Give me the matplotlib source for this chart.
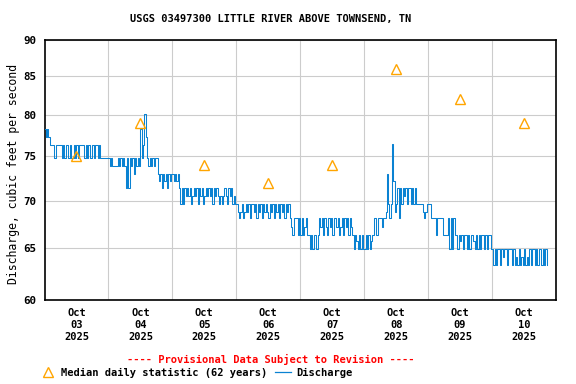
import numpy as np
import matplotlib
matplotlib.use("Agg")
import matplotlib.pyplot as plt
import matplotlib.dates as mdates
from matplotlib.ticker import NullLocator, NullFormatter, FixedLocator
from matplotlib.lines import Line2D

plt.rcParams['font.family'] = ['DejaVu Sans Mono']
plt.rcParams['font.weight'] = 'bold'

# ---------------- data (30-minute discharge, cfs) ----------------
day1 = [78.3, 77.3, 78.3, 77.3, 76.4, 76.4, 76.4, 74.8, 74.8, 76.4, 76.4, 76.4, 76.4,
        74.8, 76.4, 74.8, 76.4, 76.4, 74.8, 76.4, 74.8, 74.8, 76.4, 74.8, 76.4, 74.8,
        76.4, 76.4, 76.4, 76.4,
        74.8, 76.4, 74.8, 76.4, 74.8, 74.8, 76.4, 74.8, 76.4, 76.4, 74.8, 76.4,
        74.8, 74.8, 74.8, 74.8, 74.8, 74.8]
day2 = [74.8, 73.9, 74.8, 73.9, 73.9, 73.9, 73.9, 74.8, 73.9, 74.8, 73.9, 74.8, 73.9,
        71.4, 74.8, 71.4, 74.8, 73.9, 74.8, 73.0, 74.8, 73.9, 74.8, 73.9,
        78.3, 74.8, 76.4, 80.1, 77.3, 74.8, 73.9, 74.8, 73.9, 74.8, 73.9, 74.8, 74.8,
        73.0, 72.2, 73.0, 71.4, 73.0, 72.2, 73.0, 71.4, 73.0, 72.2, 73.0]
day3 = [73.0, 72.2, 73.0, 72.2, 73.0,
        71.4, 69.6, 71.4, 69.6, 71.4, 70.5, 71.4, 70.5, 71.4, 69.6, 70.5, 71.4, 70.5,
        71.4, 69.6, 71.4, 70.5, 71.4, 69.6, 70.5, 71.4, 70.5, 71.4, 70.5, 71.4, 69.6,
        71.4, 70.5, 71.4, 70.5, 69.6, 70.5, 69.6, 70.5, 71.4, 70.5, 69.6, 71.4, 70.5,
        71.4, 69.6, 70.5, 69.6]
day4 = [69.6, 68.8, 68.1, 68.8, 69.6, 68.1, 68.8,
        69.6, 68.8, 69.6, 68.1, 69.6, 69.6, 68.8, 69.6, 68.1, 69.6, 68.8, 69.6, 68.1,
        69.6, 68.8, 69.6, 68.8, 68.1, 69.6, 68.8, 69.6, 68.1, 69.6, 68.8, 69.6, 68.1,
        69.6, 68.8, 69.6, 68.1, 69.6, 68.8, 69.6,
        68.1, 67.2, 66.4, 68.1, 68.1, 68.1, 66.4, 68.1]
day5 = [66.4, 68.1, 66.4, 67.2, 68.1, 66.4,
        66.4, 64.9, 66.4, 64.9, 66.4, 66.4, 64.9, 66.4,
        68.1, 67.2, 68.1, 66.4, 68.1, 67.2, 66.4, 68.1, 67.2, 68.1, 66.4, 68.1, 68.1,
        67.2, 68.1, 66.4, 67.2, 68.1, 66.4, 68.1, 67.2, 68.1, 66.4, 68.1, 67.2,
        66.4, 64.9, 66.4, 65.7, 64.9, 66.4, 64.9, 66.4, 64.9]
day6 = [64.9, 66.4, 64.9, 66.4, 64.9, 65.7, 66.4,
        68.1, 68.1, 66.4, 68.1, 68.1, 68.1, 67.2, 68.1, 68.1,
        68.8,
        73.0, 69.6, 68.1, 69.6, 76.5, 72.2, 68.8, 69.6, 71.4, 68.1,
        71.4, 69.6, 71.4, 70.5, 71.4, 69.6, 71.4, 71.4, 69.6, 71.4, 69.6, 71.4,
        69.6, 69.6, 69.6, 69.6, 69.6,
        68.8, 68.1, 68.8,
        69.6]
day7 = [69.6, 69.6,
        68.1, 68.1, 68.1, 68.1, 66.4, 68.1, 68.1, 68.1, 68.1,
        66.4, 66.4, 66.4,
        66.4, 68.1, 64.9, 68.1, 64.9, 68.1, 66.4,
        66.4, 64.9, 66.4, 65.7, 66.4, 64.9, 66.4, 66.4, 64.9, 66.4, 64.9, 66.4, 66.4,
        65.7, 64.9, 66.4, 64.9, 66.4, 64.9, 66.4, 66.4, 64.9, 66.4, 64.9, 66.4, 66.4,
        64.9]
day8 = [64.9, 63.3, 64.9, 63.3, 64.9, 64.9, 63.3, 64.9, 64.1, 64.9,
        64.9, 63.3, 64.9, 64.9, 64.9, 63.3, 64.9, 63.3, 64.1, 63.3,
        64.9, 63.3, 64.1, 63.3, 64.9, 63.3, 64.1, 63.3, 64.9, 63.3,
        64.9, 64.9, 63.3, 64.9, 63.3, 64.9, 64.9, 63.3, 64.9, 63.3,
        64.9, 63.3]

median_days = ["2025-10-03", "2025-10-04", "2025-10-05", "2025-10-06",
               "2025-10-07", "2025-10-08", "2025-10-09", "2025-10-10"]
median_vals = [75, 79, 74, 72, 74, 86, 82, 79]

tick_labels = ["Oct\n03\n2025", "Oct\n04\n2025", "Oct\n05\n2025", "Oct\n06\n2025",
               "Oct\n07\n2025", "Oct\n08\n2025", "Oct\n09\n2025", "Oct\n10\n2025"]
y_ticks = [60, 65, 70, 75, 80, 85, 90]

title = "USGS 03497300 LITTLE RIVER ABOVE TOWNSEND, TN"
ylabel = "Discharge, cubic feet per second"
notice = "---- Provisional Data Subject to Revision ----"
legend_labels = ["Median daily statistic (62 years)", "Discharge"]

# ---------------- build series ----------------
discharge = np.array(day1 + day2 + day3 + day4 + day5 + day6 + day7 + day8)
t0 = np.datetime64("2025-10-03T00:00")
times = t0 + np.arange(len(discharge)) * np.timedelta64(30, "m")
median_times = np.array([np.datetime64(d + "T12:00") for d in median_days])

blue = "#0a82d2"
orange = "#FFA500"
grid_c = "#CCCCCC"

fig = plt.figure(figsize=(5.76, 3.84), dpi=100)
ax = fig.add_axes([44.5 / 576, 84.5 / 384, 511.5 / 576, 260 / 384])

ax.step(times, discharge, where="post", color=blue, lw=0.75, zorder=3)
ax.plot(median_times, median_vals, ls="none", marker="^", ms=6.6,
        mfc="none", mec=orange, mew=1.0, zorder=4)

ax.set_yscale("log")
ax.set_ylim(60, 90)
ax.yaxis.set_major_locator(FixedLocator(y_ticks))
ax.set_yticklabels([str(v) for v in y_ticks])
ax.yaxis.set_minor_locator(NullLocator())
ax.yaxis.set_minor_formatter(NullFormatter())

xstart = mdates.date2num(np.datetime64("2025-10-03T00:00"))
xend = mdates.date2num(np.datetime64("2025-10-11T00:00"))
ax.set_xlim(xstart, xend)
ax.set_xticks(mdates.date2num(median_times))
ax.set_xticklabels(tick_labels, linespacing=1.28)
midnights = mdates.date2num(np.array([np.datetime64(d + "T00:00") for d in median_days]))
ax.xaxis.set_minor_locator(FixedLocator(list(midnights[1:])))

ax.tick_params(axis="both", which="both", length=0, labelsize=7.5)
ax.tick_params(axis="y", pad=6, labelsize=7.8)
ax.tick_params(axis="x", pad=6)

ax.set_axisbelow(True)
ax.grid(axis="y", which="major", color=grid_c, lw=0.8)
ax.grid(axis="x", which="minor", color=grid_c, lw=0.8)
ax.grid(axis="x", which="major", visible=False)

for s in ax.spines.values():
    s.set_linewidth(1.2)
    s.set_color("black")

ax.set_ylabel(ylabel, fontsize=8.3, va="center")
ax.yaxis.set_label_coords(-0.0615, 0.483)

fig.text(271 / 576, 1 - 19 / 384, title, ha="center", va="center", fontsize=7.5)
fig.text(271 / 576, 1 - 359 / 384, notice, ha="center", va="center",
         fontsize=7.5, color="#FF0000")

h_med = Line2D([], [], ls="none", marker="^", ms=6.6, mfc="none", mec=orange, mew=1.0)
h_dis = Line2D([], [], color=blue, lw=0.9)
fig.legend([h_med, h_dis], legend_labels, loc="center",
           bbox_to_anchor=(196 / 576, 1 - 373 / 384), ncol=2, frameon=False,
           handlelength=1.5, handletextpad=0.5, columnspacing=0.8,
           borderpad=0, borderaxespad=0,
           prop={"size": 7.5, "weight": "bold", "family": "DejaVu Sans Mono"})

fig.savefig("out.png", dpi=100)
